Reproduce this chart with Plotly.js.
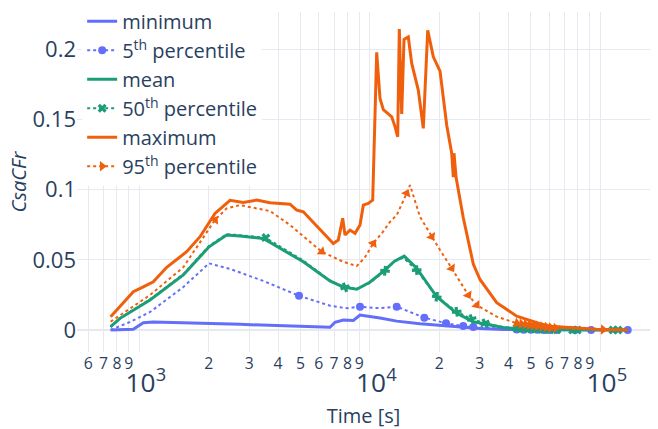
<!DOCTYPE html>
<html><head><meta charset="utf-8">
<script src="https://cdn.plot.ly/plotly-3.0.1.min.js"></script>
<style>html,body{margin:0;padding:0;background:#fff}#chart{width:658px;height:429px}</style>
</head><body><div id="chart"></div>
<script>
// ---- data (time in s, CsaCFr values) ----
const minT = [751, 942, 1041, 1150, 2735, 6719, 7063, 7674, 8482, 9068, 11073, 13083, 16510, 20166, 25440, 30061, 37946, 50000, 131500];
const minV = [0, 0.0005, 0.0052, 0.0057, 0.0040, 0.0019, 0.0055, 0.0071, 0.0068, 0.0107, 0.0085, 0.0063, 0.0044, 0.0031, 0.0017, 0.0010, 0.0004, 0.0001, 0];

const p05T = [751, 911, 1113, 1552, 2007, 2475, 3451, 4930, 6719, 7940, 9068, 11073, 13083, 15000, 17239, 21414, 25440, 28119, 35525, 43385, 46500, 50000, 53500, 57000, 60500, 64860, 77630, 91200, 131500];
const p05V = [0, 0.0057, 0.0128, 0.0306, 0.0475, 0.0435, 0.0350, 0.0244, 0.0173, 0.0155, 0.0166, 0.0155, 0.0166, 0.0130, 0.0088, 0.0048, 0.0028, 0.0022, 0.0009, 0.0003, 0.0002, 0.0001, 0.0001, 0, 0, 0, 0, 0, 0];
const p05Marks = [751, 4930, 9068, 13083, 17239, 21414, 25440, 28119, 43385, 46500, 50000, 53500, 57000, 60500, 64860, 77630, 91200, 131500];

const meanT = [751, 825, 1113, 1552, 2007, 2393, 2735, 3451, 5146, 6719, 7674, 8775, 10000, 11447, 12800, 14100, 15974, 19512, 23823, 28119, 37946, 43385, 55000, 131500];
const meanV = [0.0024, 0.0083, 0.0214, 0.0392, 0.0593, 0.0677, 0.0670, 0.0653, 0.0486, 0.0350, 0.0306, 0.0290, 0.0340, 0.0418, 0.0490, 0.0527, 0.0440, 0.0237, 0.0119, 0.0059, 0.0017, 0.0010, 0.0003, 0];

const p50T = [751, 825, 1113, 1552, 2007, 2393, 2735, 3534, 5146, 6719, 7805, 8775, 10000, 11643, 12800, 13974, 15974, 19512, 23823, 27670, 31608, 37946, 43385, 46500, 50000, 53500, 57000, 60500, 64860, 75900, 79480, 113500, 119300, 131500];
const p50V = [0.0020, 0.0085, 0.0218, 0.0398, 0.0600, 0.0683, 0.0676, 0.0657, 0.0495, 0.0352, 0.0304, 0.0293, 0.0335, 0.0422, 0.0492, 0.0515, 0.0427, 0.0237, 0.0130, 0.0078, 0.0048, 0.0020, 0.0012, 0.0010, 0.0008, 0.0006, 0.0004, 0.0003, 0.0002, 0, 0, 0, 0, 0];
const p50Marks = [3534, 7805, 11643, 15974, 19512, 23823, 27670, 31608, 43385, 46500, 50000, 53500, 57000, 60500, 64860, 75900, 79480, 113500, 119300];

const maxT = [751, 825, 942, 1041, 1150, 1315, 1605, 1834, 2130, 2475, 2826, 3231, 3690, 4507, 4819, 5146, 6945, 7301, 7627, 7805, 8206, 8627, 9068, 9372, 9851, 10294, 10713, 11073, 11447, 12032, 12445, 12861, 13213, 13428, 13752, 14074, 14689, 15198, 16231, 17065, 17834, 18860, 19830, 20166, 21563, 22662, 23030, 23190, 23660, 25440, 28119, 30061, 35525, 43385, 54740, 60500, 96460, 131500];
const maxV = [0.0095, 0.0166, 0.0273, 0.0308, 0.0344, 0.0447, 0.0558, 0.0665, 0.0831, 0.0924, 0.0909, 0.0926, 0.0907, 0.0897, 0.0855, 0.0843, 0.0617, 0.0641, 0.0796, 0.0677, 0.0712, 0.0689, 0.0748, 0.0890, 0.0902, 0.0926, 0.1980, 0.1650, 0.1570, 0.1540, 0.1520, 0.1450, 0.1377, 0.2145, 0.1540, 0.2072, 0.2089, 0.1900, 0.1710, 0.1437, 0.2137, 0.1947, 0.1875, 0.1845, 0.1460, 0.1260, 0.1090, 0.1260, 0.1090, 0.0800, 0.0470, 0.0360, 0.0195, 0.0098, 0.0045, 0.0027, 0.0005, 0];

const p95T = [751, 1113, 1552, 2130, 2393, 2735, 3690, 4507, 6184, 7674, 8775, 9500, 10356, 11400, 12234, 13083, 14455, 14941, 16510, 18562, 20166, 22662, 26748, 29093, 35525, 43385, 45500, 47500, 49500, 51500, 53500, 56000, 58500, 61000, 64000, 103000, 131500];
const p95V = [0.0059, 0.0249, 0.0447, 0.0785, 0.0867, 0.0890, 0.0848, 0.0748, 0.0558, 0.0486, 0.0456, 0.0515, 0.0617, 0.0700, 0.0771, 0.0819, 0.0974, 0.1033, 0.0807, 0.0665, 0.0570, 0.0440, 0.0249, 0.0178, 0.0095, 0.0048, 0.0044, 0.0040, 0.0036, 0.0032, 0.0028, 0.0024, 0.0020, 0.0017, 0.0014, 0.0003, 0];
const p95Marks = [2130, 6184, 10356, 14455, 18562, 22662, 26748, 29093, 43385, 45500, 47500, 49500, 51500, 53500, 56000, 58500, 61000, 64000, 103000];

const seriesNames = ['minimum', '5<sup>th</sup> percentile', 'mean', '50<sup>th</sup> percentile', 'maximum', '95<sup>th</sup> percentile'];

// ---- styling ----
const cBlue = '#636efa', cGreen = '#1b9e77', cOrange = '#f0600c';
const gridC = '#e6e9f0';

function markIdx(times, marks) {
  const s = new Set(marks);
  const out = [];
  times.forEach((t, i) => { if (s.has(t)) out.push(i); });
  return out;
}
function solid(name, x, y, color) {
  return {type: 'scatter', name: name, x: x, y: y, mode: 'lines',
          line: {color: color, width: 3}};
}
function dotted(name, x, y, color, symbol, size, marks, legendAngle) {
  // first point (never shown with a marker) carries the legend symbol's orientation
  const ang = x.map((_, i) => (i === 0 ? legendAngle : 0));
  return {type: 'scatter', name: name, x: x, y: y, mode: 'lines+markers',
          line: {color: color, width: 2, dash: 'dot'},
          marker: {color: color, size: size, symbol: symbol, angleref: 'previous',
                   angle: ang, line: {width: 0}},
          selectedpoints: markIdx(x, marks),
          selected: {marker: {opacity: 1}},
          unselected: {marker: {opacity: 0}}};
}

const data = [
  solid(seriesNames[0], minT, minV, cBlue),
  dotted(seriesNames[1], p05T, p05V, cBlue, 'circle', 8, p05Marks, 0),
  solid(seriesNames[2], meanT, meanV, cGreen),
  dotted(seriesNames[3], p50T, p50V, cGreen, 'x', 8, p50Marks, 0),
  solid(seriesNames[4], maxT, maxV, cOrange),
  dotted(seriesNames[5], p95T, p95V, cOrange, 'triangle-up', 9, p95Marks, -90)
];

const layout = {
  width: 658, height: 429,
  margin: {l: 77, r: 8, t: 12, b: 77, autoexpand: false},
  paper_bgcolor: '#ffffff', plot_bgcolor: '#ffffff',
  font: {family: '"Open Sans", "Noto Sans", sans-serif', size: 20, color: '#2a3f5f'},
  showlegend: true,
  hovermode: false,
  legend: {x: 0.009, xanchor: 'left', y: 1.03, yanchor: 'top', bgcolor: '#ffffff',
           font: {size: 20}, borderwidth: 0},
  xaxis: {type: 'log', range: [2.7297, 5.2156], dtick: 'D1', exponentformat: 'power',
          gridcolor: gridC, zeroline: false, showline: false, ticks: '',
          tickfont: {size: 21},
          title: {text: 'Time [s]', font: {size: 20}}},
  yaxis: {range: [-0.0157, 0.2267], dtick: 0.05,
          gridcolor: gridC, zeroline: true, zerolinecolor: gridC, zerolinewidth: 2,
          showline: false, ticks: '', tickfont: {size: 22},
          title: {text: '<i>CsaCFr</i>', font: {size: 20}, standoff: 0}}
};

Plotly.newPlot('chart', data, layout, {staticPlot: true, displayModeBar: false});
</script>
</body></html>
